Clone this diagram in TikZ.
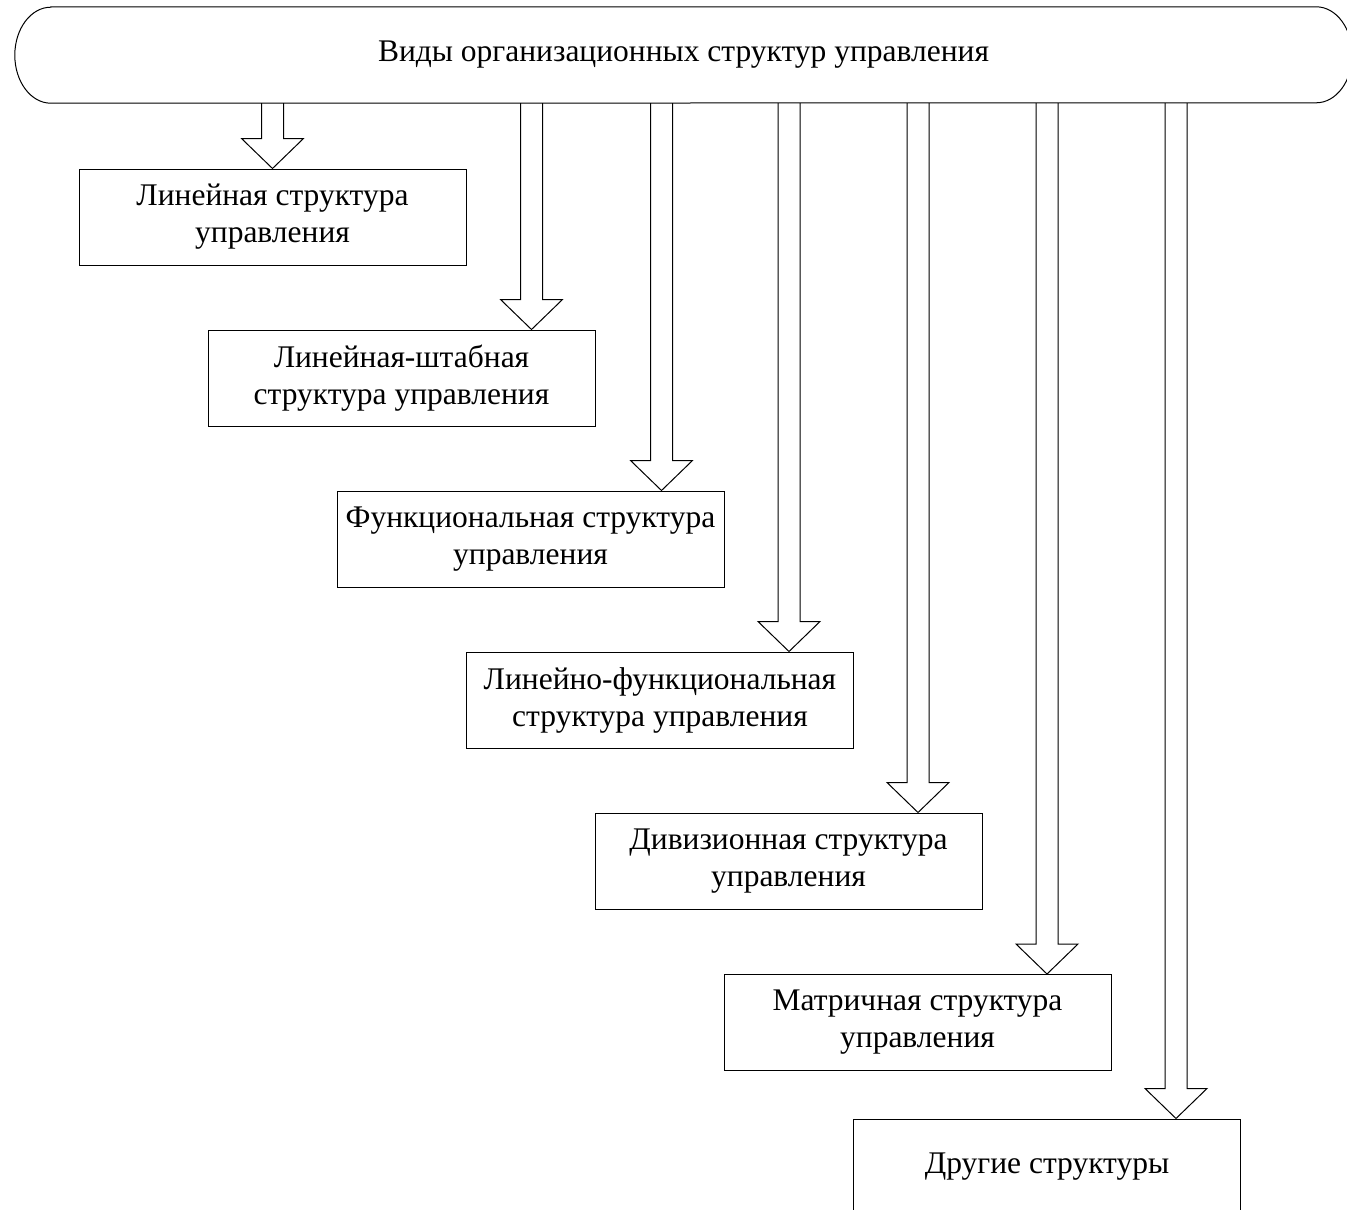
\documentclass[tikz,border=0pt]{standalone}
\usepackage{fontspec}
\setmainfont{Liberation Serif}
\usetikzlibrary{calc}
\pgfdeclarelayer{bg}
\pgfsetlayers{bg,main}
\begin{document}
\begin{tikzpicture}[x=1pt,y=-1pt,
  lbl/.style={font=\fontsize{31.5}{37}\selectfont, align=center, inner sep=0pt},
  box/.style={lbl, draw, fill=white, line width=1pt, minimum width=387pt, minimum height=96pt},
  outline/.style={draw, line width=1pt},
  barrow/.style={draw, fill=white, line width=1pt, line join=miter}]
\useasboundingbox (0,0) rectangle (1347,1210);
\clip (0,0) rectangle (1347,1210);

% top rounded shape
\node[lbl, minimum width=1337pt, minimum height=96pt] (top) at (683.5,55) {Виды организационных структур управления};
\draw[outline] ([xshift=36pt]top.north west) -- ([xshift=-36pt]top.north east)
  arc[start angle=90, end angle=-90, x radius=36pt, y radius=48pt]
  -- ([xshift=36pt]top.south west)
  arc[start angle=270, end angle=90, x radius=36pt, y radius=48pt] -- cycle;

% boxes
\node[box] (b1) at (272.5,217) {Линейная структура\\управления};
\node[box] (b2) at (401.5,378) {Линейная-штабная\\структура управления};
\node[box] (b3) at (530.5,539) {Функциональная структура\\управления};
\node[box] (b4) at (660,700) {Линейно-функциональная\\структура управления};
\node[box] (b5) at (788.5,861) {Дивизионная структура\\управления};
\node[box] (b6) at (917.5,1022.5) {Матричная структура\\управления};
\node[box] (b7) at (1047,1167) {Другие структуры};

% arrow tips
\coordinate (t1) at (b1.north);
\coordinate (t2) at ($(b2.north)+(130,0)$);
\coordinate (t3) at ($(b3.north)+(131,0)$);
\coordinate (t4) at ($(b4.north)+(129,0)$);
\coordinate (t5) at ($(b5.north)+(129.5,0)$);
\coordinate (t6) at ($(b6.north)+(129.5,0)$);
\coordinate (t7) at ($(b7.north)+(129,0)$);

\begin{pgfonlayer}{bg}
\foreach \t in {t1,t2,t3,t4,t5,t6,t7}{
  \draw[barrow] let \p1=(\t), \p2=(top.south) in
    (\x1-11pt,\y2) -- (\x1-11pt,\y1+30pt) -- (\x1-31pt,\y1+30pt) -- (\x1,\y1)
    -- (\x1+31pt,\y1+30pt) -- (\x1+11pt,\y1+30pt) -- (\x1+11pt,\y2);
}
\end{pgfonlayer}
\end{tikzpicture}
\end{document}
